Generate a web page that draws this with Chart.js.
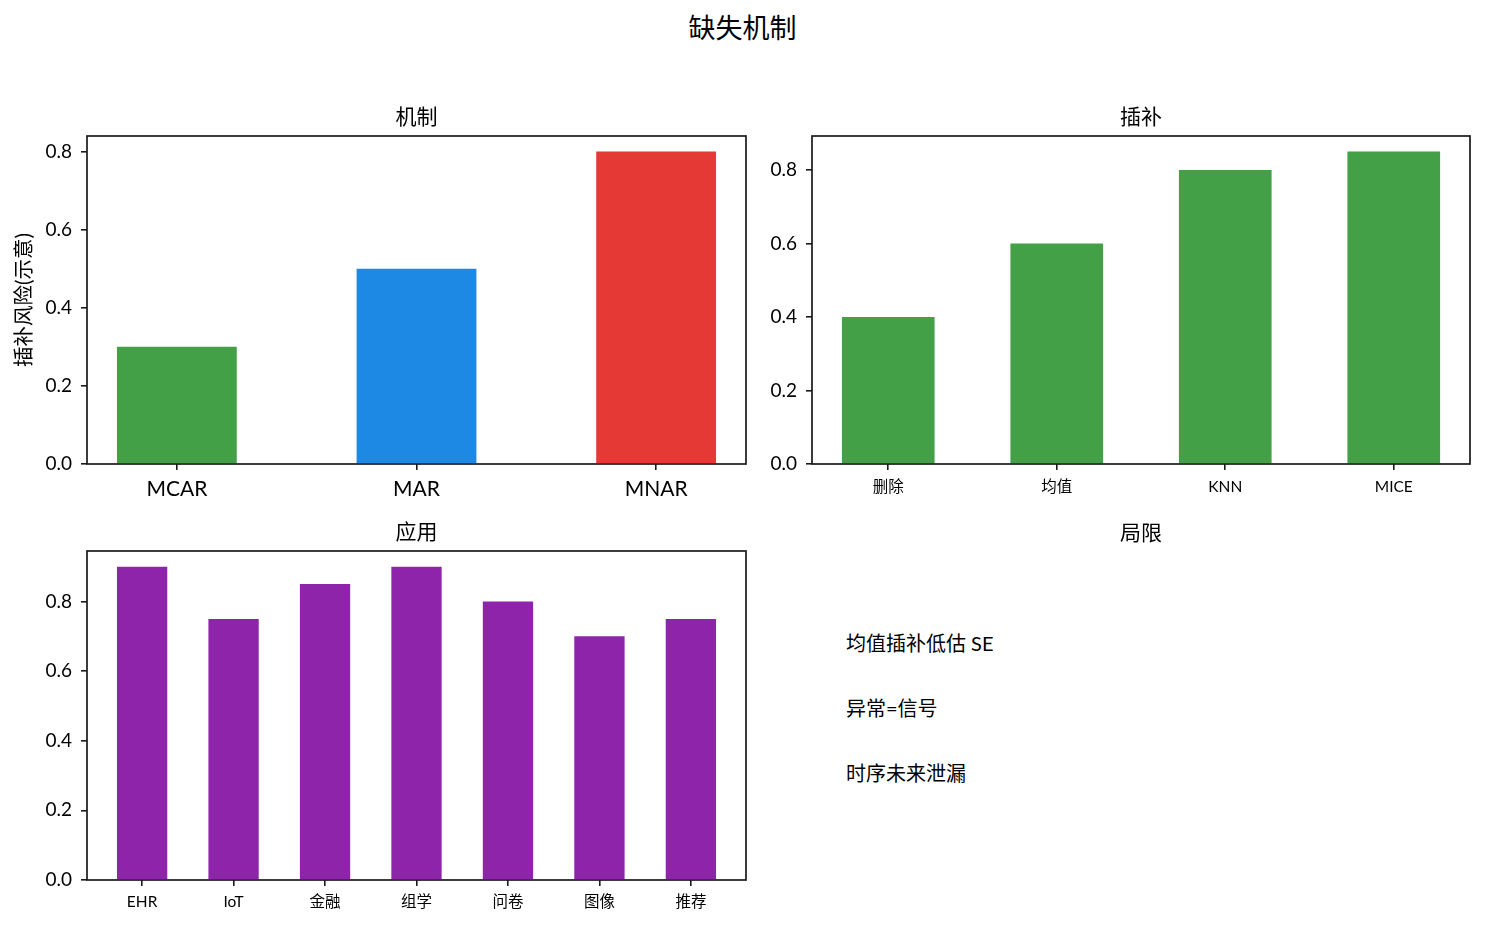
<!DOCTYPE html>
<html>
<head>
<meta charset="utf-8">
<title>缺失机制</title>
<script src="https://cdn.jsdelivr.net/npm/chart.js@4.4.0/dist/chart.umd.min.js"></script>
<style>
  body { margin: 0; background: #fff; }
  #page { position: relative; width: 1485px; height: 925px; overflow: hidden;
          font-family: Lato, "Noto Sans CJK SC", sans-serif; color: #000; }
  canvas { position: absolute; }
  .txt { position: absolute; white-space: nowrap; }
</style>
</head>
<body>
<div id="page">
  <div id="suptitle" class="txt" style="left:0;width:1485px;top:12px;line-height:32px;font-size:27px;text-align:center"></div>
  <canvas id="mechChart" width="760" height="440" style="left:0;top:90px"></canvas>
  <canvas id="imputeChart" width="725" height="440" style="left:760px;top:90px"></canvas>
  <canvas id="appChart" width="760" height="415" style="left:0;top:510px"></canvas>
  <div id="limitTitle" class="txt" style="left:812px;width:658px;top:519px;line-height:26px;font-size:21px;text-align:center"></div>
  <div id="limitNotes"></div>
</div>
<script>
// data
const figTitle = '缺失机制';
const panelTitles = ['机制', '插补', '应用', '局限'];
const yAxisTitle = '插补风险(示意)';
const yTicks = [0, 0.2, 0.4, 0.6, 0.8];

const mechLabels = ['MCAR', 'MAR', 'MNAR'];
const mechValues = [0.3, 0.5, 0.8];

const imputeLabels = ['删除', '均值', 'KNN', 'MICE'];
const imputeValues = [0.4, 0.6, 0.8, 0.85];

const appLabels = ['EHR', 'IoT', '金融', '组学', '问卷', '图像', '推荐'];
const appValues = [0.9, 0.75, 0.85, 0.9, 0.8, 0.7, 0.75];

const limitNotes = ['均值插补低估 SE', '异常=信号', '时序未来泄漏'];

const FONT = 'Lato, "Noto Sans CJK SC", sans-serif';
const INK = '#1a1a1a';

// draws the subplot title over the middle of the plot area
const panelTitle = {
  id: 'panelTitle',
  afterDraw(chart, args, opts) {
    const { ctx, chartArea } = chart;
    ctx.save();
    ctx.font = `21px ${FONT}`;
    ctx.fillStyle = '#000';
    ctx.textAlign = 'center';
    ctx.textBaseline = 'middle';
    ctx.fillText(opts.text, (chartArea.left + chartArea.right) / 2, chartArea.top - 19);
    ctx.restore();
  }
};

// full box around the plot like matplotlib spines
const frame = {
  id: 'frame',
  afterDatasetsDraw(chart) {
    const { ctx, chartArea: a } = chart;
    ctx.save();
    ctx.strokeStyle = INK;
    ctx.lineWidth = 1.7;
    ctx.strokeRect(a.left, a.top, a.right - a.left, a.bottom - a.top);
    ctx.restore();
  }
};

function makeBarChart(id, labels, values, colors, opt) {
  const n = labels.length;
  const half = opt.barFrac / 2;
  const margin = 0.05 * ((n - 1) + opt.barFrac);
  const yMax = Math.max(...values) * 1.05;

  return new Chart(document.getElementById(id), {
    type: 'bar',
    data: {
      datasets: [{
        data: values.map((v, i) => ({ x: i, y: v })),
        backgroundColor: colors,
        borderWidth: 0,
        barPercentage: opt.barFrac,
        categoryPercentage: 1
      }]
    },
    options: {
      responsive: false,
      animation: false,
      layout: { padding: { top: opt.padTop, right: opt.padRight, left: 0, bottom: 0 } },
      plugins: {
        legend: { display: false },
        tooltip: { enabled: false },
        panelTitle: { text: opt.title }
      },
      scales: {
        x: {
          type: 'linear',
          min: -half - margin,
          max: n - 1 + half + margin,
          offset: false,
          afterBuildTicks: s => { s.ticks = labels.map((_, i) => ({ value: i })); },
          afterFit: s => { s.height = opt.xHeight; },
          ticks: {
            autoSkip: false, maxRotation: 0, padding: opt.xPad,
            color: '#000', font: { family: FONT, size: opt.xFont },
            callback: v => labels[Math.round(v)]
          },
          grid: { drawOnChartArea: false, drawTicks: true, tickLength: 6, color: INK, lineWidth: 1.6, offset: false },
          border: { display: false }
        },
        y: {
          min: 0,
          max: yMax,
          afterBuildTicks: s => { s.ticks = yTicks.map(v => ({ value: v })); },
          afterFit: s => { s.width = opt.yWidth; },
          ticks: {
            padding: 9, color: '#000', font: { family: FONT, size: 19 },
            callback: v => v.toFixed(1)
          },
          grid: { drawOnChartArea: false, drawTicks: true, tickLength: 6, color: INK, lineWidth: 1.6 },
          border: { display: false },
          title: {
            display: !!opt.yTitle,
            text: opt.yTitle || '',
            color: '#000',
            font: { family: FONT, size: 20.5 },
            padding: { top: 12, bottom: 0 }
          }
        }
      }
    },
    plugins: [panelTitle, frame]
  });
}

makeBarChart('mechChart', mechLabels, mechValues, ['#43a047', '#1e88e5', '#e53935'], {
  barFrac: 0.5, title: panelTitles[0], yTitle: yAxisTitle, xFont: 21, xPad: 7,
  padTop: 46, padRight: 14, yWidth: 87, xHeight: 66
});

makeBarChart('imputeChart', imputeLabels, imputeValues, '#43a047', {
  barFrac: 0.55, title: panelTitles[1], xFont: 15.5, xPad: 8,
  padTop: 46, padRight: 15, yWidth: 52, xHeight: 66
});

makeBarChart('appChart', appLabels, appValues, '#8e24aa', {
  barFrac: 0.55, title: panelTitles[2], xFont: 15.5, xPad: 7,
  padTop: 41, padRight: 14, yWidth: 87, xHeight: 45
});

// text-only fourth panel
document.getElementById('suptitle').textContent = figTitle;
document.getElementById('limitTitle').textContent = panelTitles[3];
const noteTops = [631, 696, 761];
const notesBox = document.getElementById('limitNotes');
limitNotes.forEach((t, i) => {
  const d = document.createElement('div');
  d.className = 'txt';
  d.style.cssText = `left:846px;top:${noteTops[i]}px;line-height:24px;font-size:20px`;
  d.textContent = t;
  notesBox.appendChild(d);
});
</script>
</body>
</html>
